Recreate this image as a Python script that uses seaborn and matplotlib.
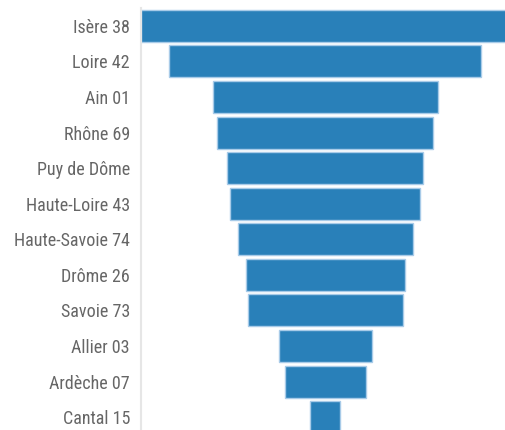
import matplotlib
matplotlib.use("Agg")
import matplotlib.pyplot as plt
import seaborn as sns
import pandas as pd

# departments, top of the funnel first
departments = ["Isère 38", "Loire 42", "Ain 01", "Rhône 69", "Puy de Dôme",
               "Haute-Loire 43", "Haute-Savoie 74", "Drôme 26", "Savoie 73",
               "Allier 03", "Ardèche 07", "Cantal 15"]
values = [368, 312, 225, 216, 196, 190, 175, 159, 155, 93, 81, 30]

df = pd.DataFrame({"dept": departments, "value": values})

sns.set_theme(style="white")
plt.rcParams["font.family"] = ["Roboto Condensed", "Roboto", "DejaVu Sans"]

fig = plt.figure(figsize=(5.06, 4.30), dpi=100)
ax = fig.add_axes([141 / 506, -5 / 430, 368 / 506, 427 / 430])

sns.barplot(data=df, x="value", y="dept", orient="h", color="#2980b9",
            saturation=1, width=0.9, edgecolor="#a8cbe8", linewidth=1, ax=ax)

# centre each bar to get the funnel shape
for patch in ax.patches:
    w = patch.get_width()
    patch.set_x(-w / 2)

half = max(values) / 2
ax.set_xlim(-half, half)
ax.set_ylim(len(departments) - 0.5, -0.5)
ax.set_xlabel("")
ax.set_ylabel("")
ax.set_xticks([])
ax.tick_params(axis="y", length=0, pad=8, labelsize=13, labelcolor="#666666")

for side in ["top", "right", "bottom"]:
    ax.spines[side].set_visible(False)
ax.spines["left"].set_color("#e6e6e6")
ax.spines["left"].set_linewidth(1.5)

fig.savefig("out.png", dpi=100)
